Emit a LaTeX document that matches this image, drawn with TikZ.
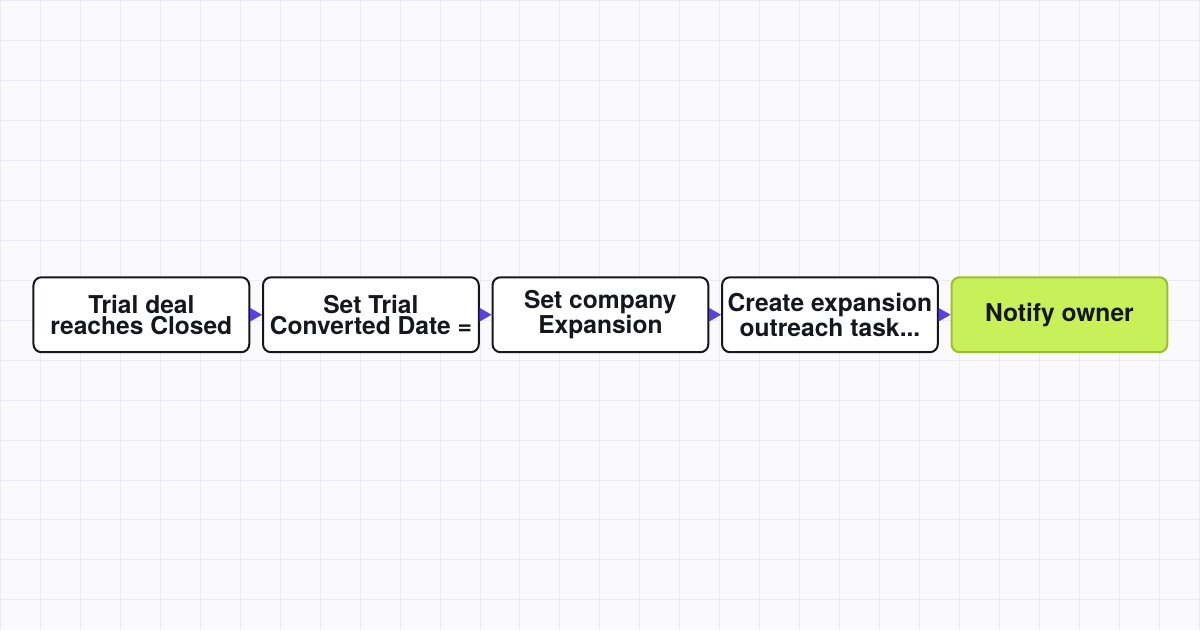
\documentclass[tikz,border=0pt]{standalone}
\usepackage{fontspec}
\setmainfont{TeX Gyre Heros}
\usetikzlibrary{positioning,arrows.meta}
\definecolor{bgpaper}{HTML}{FAFAFC}
\definecolor{gridline}{HTML}{ECEAF6}
\definecolor{inkdark}{HTML}{15171C}
\definecolor{flowpurple}{HTML}{5B3FE0}
\definecolor{limefill}{HTML}{C8F059}
\definecolor{limeedge}{HTML}{9CBE2E}

\begin{document}
\begin{tikzpicture}[x=0.02cm,y=-0.02cm]
        \tikzset{stepbox/.style={draw=inkdark, fill=white, line width=0.04cm,
                  rounded corners=0.16cm, minimum width=4.32cm, minimum height=1.5cm,
                  inner sep=0pt, align=center, text=inkdark,
                  font=\fontsize{14}{12}\selectfont\bfseries}}
        \tikzset{endbox/.style={stepbox, draw=limeedge, fill=limefill}}
        \tikzset{flow/.style={draw=flowpurple, line width=0.5pt,
                  -{Triangle[length=0.24cm,width=0.27cm]}}}
        \tikzset{node distance=0.235cm}
        % paper and grid
        \fill[bgpaper] (0,0) rectangle (1200,630);
        \draw[gridline, line width=0.02cm] (0,0) grid[step=0.8cm] (1200,630);
        \useasboundingbox (0,0) rectangle (1200,630);
        % steps
        \node[stepbox] (trial) at (141,314.5) {Trial deal\\reaches Closed};
        \node[stepbox, right=of trial] (setdate) {Set Trial\\Converted Date =};
        \node[stepbox, right=of setdate] (setcompany) {Set company\\Expansion};
        \node[stepbox, right=of setcompany] (task) {Create expansion\\outreach task...};
        \node[endbox, right=of task] (notify) {Notify owner};
        \draw[flow] (trial) -- (setdate);
        \draw[flow] (setdate) -- (setcompany);
        \draw[flow] (setcompany) -- (task);
        \draw[flow] (task) -- (notify);
\end{tikzpicture}
\end{document}
